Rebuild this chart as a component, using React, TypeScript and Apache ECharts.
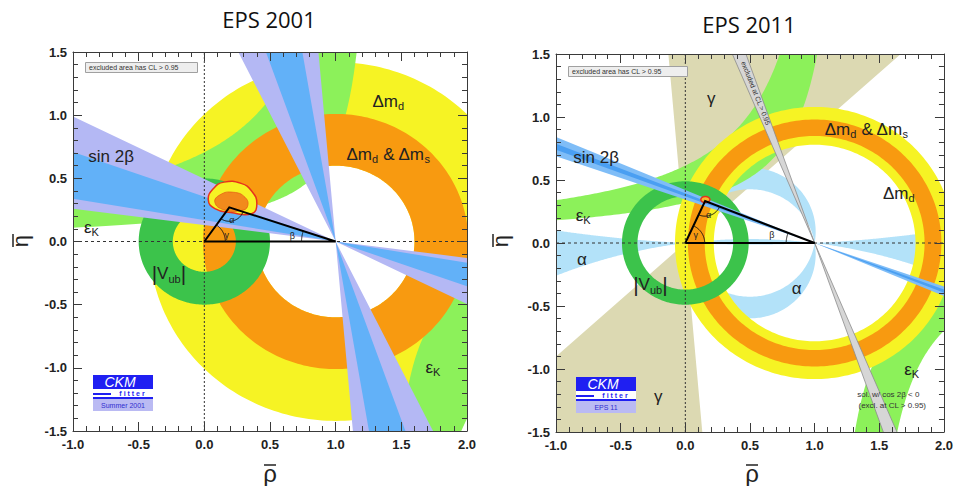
import React, { useEffect, useRef } from "react";
import * as echarts from "echarts";

// ---------------- data ----------------
const xTicks = [-1.0, -0.5, 0.0, 0.5, 1.0, 1.5, 2.0];
const yTicks = [-1.5, -1.0, -0.5, 0.0, 0.5, 1.0, 1.5];
const plotTitles = ["EPS 2001", "EPS 2011"];

// EPS 2001 : annuli [cx, cy, rIn, rOut]
const dmd2001 = [1, 0, 0.6, 1.42];
const dmds2001 = [1, 0, 0.6, 1.01];
const vub2001 = [0, 0, 0.24, 0.5];
// eps_K hyperbola edges [P, c] : eta = c / (P - rho)
const epsKUpper2001 = [[1.33, 0.255], [1.33, 0.94]];
const epsKLower2001 = [[1.33, 0.255], [1.33, 0.94]];
// sin 2beta wedges from (1,0): angle ranges above the -rho direction (deg)
const sin2bOuter2001 = [[7.4, 26.3], [63.7, 85.0]];
const sin2bInner2001 = [[9.6, 19.5], [70.5, 80.4]];
const apex2001 = [0.19, 0.27];
const fitOuter2001 = [[0.03, 0.33], [0.07, 0.42], [0.15, 0.47], [0.28, 0.46], [0.36, 0.4], [0.4, 0.3], [0.36, 0.22], [0.2, 0.23], [0.08, 0.26]];
const fitInner2001 = [[0.08, 0.31], [0.12, 0.37], [0.22, 0.39], [0.31, 0.35], [0.33, 0.28], [0.28, 0.245], [0.15, 0.25]];
const labels2001 = [
  [1.4, 1.11, "{m|Δm}{s|d}"],
  [1.4, 0.69, "{m|Δm}{s|d}{m| & Δm}{s|s}"],
  [-0.71, 0.67, "{m|sin 2β}"],
  [-0.86, 0.11, "{m|ε}{s|K}"],
  [-0.27, -0.25, "{b||}{m|V}{s|ub}{b||}"],
  [1.74, -1.0, "{m|ε}{s|K}"],
];
const angleLabels2001 = [[0.21, 0.17, "α"], [0.17, 0.05, "γ"], [0.67, 0.04, "β"]];

// EPS 2011
const gamma2011 = [42, 95];
const alphaCrescent2011 = [0.09, -0.08];
const alphaOuter2011 = [10.05, -3.98];
const dmd2011 = [1, 0, 0.78, 1.08];
const dmds2011 = [1, 0, 0.85, 0.98];
const vub2011 = [0, 0, 0.37, 0.49];
const epsKUpper2011 = [[1.295, 0.413], [1.237, 0.76]];
const epsKLower2011 = [[1.06, 0.376], [1.325, 0.47]];
const sin2bOuter2011 = [[19.0, 22.8]];
const sin2bInner2011 = [[20.3, 21.5]];
const exclStrip2011 = [109.5, 113.0];
const apex2011 = [0.153, 0.333];
const fit2011 = [0.155, 0.345, 0.035, 0.024];
const labels2011 = [
  [0.2, 1.15, "{m|γ}"],
  [-0.21, -1.22, "{m|γ}"],
  [-0.69, 0.68, "{m|sin 2β}"],
  [-0.79, 0.22, "{m|ε}{s|K}"],
  [1.4, 0.9, "{m|Δm}{s|d}{m| & Δm}{s|s}"],
  [1.65, 0.39, "{m|Δm}{s|d}"],
  [-0.8, -0.13, "{m|α}"],
  [-0.27, -0.33, "{b||}{m|V}{s|ub}{b||}"],
  [0.86, -0.36, "{m|α}"],
  [1.75, -1.0, "{m|ε}{s|K}"],
];
const angleLabels2011 = [[0.18, 0.22, "α"], [0.08, 0.06, "γ"], [0.67, 0.06, "β"]];
const notes2011 = [[1.57, -1.2, "sol. w/ cos 2β < 0"], [1.6, -1.29, "(excl. at CL > 0.95)"]];

// ---------------- style ----------------
const FONT = "'Liberation Sans', Arial, Helvetica, sans-serif";
const COL = {
  yellow: "#f6f324", orange: "#f89a10", lgreen: "#8cf15a", dgreen: "#3cc34b",
  blue: "#62b1f8", lavender: "#b4b8f4", lblue: "#b3e2f9", khaki: "#dcd9b2",
  gray: "#d6d6d6", red: "#e8321c", text: "#222222",
  blue11o: "#7fbdf7", blue11i: "#4a9ff2",
};
const RICH = {
  m: { fontSize: 17, fontFamily: FONT, fill: COL.text, color: COL.text, lineHeight: 20, verticalAlign: "middle" },
  s: { fontSize: 11, fontFamily: FONT, fill: COL.text, color: COL.text, lineHeight: 8, verticalAlign: "bottom" },
  b: { fontSize: 21, fontFamily: FONT, fill: COL.text, color: COL.text, lineHeight: 22, verticalAlign: "middle" },
};

// ---------------- geometry helpers ----------------
const D = Math.PI / 180;
const ETA_LIM = 1.8, RHO_LO = -1.3, RHO_HI = 2.3;

function arcPts(cx: number, cy: number, r: number, t0: number, t1: number, n = 160) {
  const out: number[][] = [];
  for (let i = 0; i <= n; i++) {
    const t = t0 + ((t1 - t0) * i) / n;
    out.push([cx + r * Math.cos(t), cy + r * Math.sin(t)]);
  }
  return out;
}
function annulusPolys(a: number[]) {
  const [cx, cy, ri, ro] = a;
  return [arcPts(cx, cy, ro, 0, 2 * Math.PI, 260), arcPts(cx, cy, ri, 2 * Math.PI, 0, 260)];
}
function conePoly(apex: number[], t1: number, t2: number, R = 8) {
  const p = (t: number) => [apex[0] + R * Math.cos(t * D), apex[1] + R * Math.sin(t * D)];
  return [apex, p(t1), p((t1 + t2) / 2), p(t2)];
}
function doubleCone(apex: number[], t1: number, t2: number) {
  return [conePoly(apex, t1, t2), conePoly(apex, t1 + 180, t2 + 180)];
}
function sin2bWedges(ranges: number[][]) {
  const out: number[][][] = [];
  ranges.forEach(([a1, a2]) => doubleCone([1, 0], 180 - a2, 180 - a1).forEach((p) => out.push(p)));
  return out;
}
function logSpace(a: number, b: number, n: number) {
  const out: number[] = [];
  for (let i = 0; i <= n; i++) out.push(a * Math.pow(b / a, i / n));
  return out;
}
function hyperEdgeUpper(e: number[]) {
  const [P, c] = e;
  return logSpace(P - RHO_LO, c / ETA_LIM, 200).map((u) => [P - u, c / u]);
}
function hyperEdgeLower(e: number[]) {
  const [P, c] = e;
  return logSpace(c / ETA_LIM, RHO_HI - P, 200).map((u) => [P + u, -c / u]);
}
function hyperBandUpper(edges: number[][]) {
  return [hyperEdgeUpper(edges[0]).concat(hyperEdgeUpper(edges[1]).reverse())];
}
function hyperBandLower(edges: number[][]) {
  return [hyperEdgeLower(edges[0]).concat(hyperEdgeLower(edges[1]).reverse())];
}
function alphaOuterBand(k: number[]) {
  const [K1, K2] = k;
  const r1 = Math.sqrt(0.25 + K1 * K1), r2 = Math.sqrt(0.25 + K2 * K2);
  const top: number[][] = [], bot: number[][] = [];
  const N = 400;
  for (let i = 0; i <= N; i++) {
    const x = RHO_LO + ((RHO_HI - RHO_LO) * i) / N;
    top.push([x, K1 - Math.sqrt(r1 * r1 - (x - 0.5) ** 2)]);
    bot.push([x, K2 + Math.sqrt(r2 * r2 - (x - 0.5) ** 2)]);
  }
  return [top.concat(bot.reverse())];
}
function upperArc(k: number) {
  const r = Math.sqrt(0.25 + k * k);
  const ts = Math.atan2(-k, 0.5);
  return arcPts(0.5, k, r, ts, Math.PI - ts, 140);
}
function alphaCrescents(k: number[]) {
  const up = upperArc(k[0]).concat(upperArc(k[1]).reverse());
  const down = up.map(([x, y]) => [x, -y]);
  return [up, down];
}
function ellipsePts(e: number[]) {
  const [cx, cy, rx, ry] = e;
  const out: number[][] = [];
  for (let i = 0; i < 60; i++) {
    const t = (2 * Math.PI * i) / 60;
    out.push([cx + rx * Math.cos(t), cy + ry * Math.sin(t)]);
  }
  return out;
}
function angleArcs(apex: number[], rG: number, rB: number, rA: number) {
  const g = arcPts(0, 0, rG, 0, Math.atan2(apex[1], apex[0]), 40);
  const b = arcPts(1, 0, rB, Math.atan2(apex[1], apex[0] - 1), Math.PI, 40);
  const a = arcPts(apex[0], apex[1], rA, Math.atan2(-apex[1], -apex[0]), Math.atan2(-apex[1], 1 - apex[0]), 40);
  return [g, b, a];
}

// ---------------- shape lists ----------------
function poly(polys: number[][][], fill: string, stroke?: string, lw?: number) {
  return { kind: "poly", polys, fill, stroke, lw };
}
function line(pts: number[][], stroke: string, lw: number, dash?: number[]) {
  return { kind: "line", pts, stroke, lw, dash };
}
function label(l: any[], size = 17, rot = 0, fill = COL.text) {
  return { kind: "text", at: [l[0], l[1]], text: l[2], size, rot, fill };
}

function commonTail(apex: number[], arcR: number[]) {
  const arcs = angleArcs(apex, arcR[0], arcR[1], arcR[2]);
  return [
    line([[-1, 0], [2, 0]], "#333", 1, [3, 3]),
    line([[0, -1.5], [0, 1.5]], "#333", 1, [2, 2]),
    line([[0, 0], [1, 0], apex, [0, 0]], "#000", 2),
    ...arcs.map((a) => line(a, "#111", 1)),
  ];
}

const shapes2001: any[] = [
  poly(annulusPolys(dmd2001), COL.yellow),
  poly([...hyperBandUpper(epsKUpper2001), ...hyperBandLower(epsKLower2001)], COL.lgreen),
  poly(annulusPolys(dmds2001), COL.orange),
  poly(annulusPolys(vub2001), COL.dgreen),
  poly(sin2bWedges(sin2bOuter2001), COL.lavender),
  poly(sin2bWedges(sin2bInner2001), COL.blue),
  { kind: "spoly", pts: fitOuter2001, fill: COL.yellow, stroke: COL.red, lw: 1.5 },
  { kind: "spoly", pts: fitInner2001, fill: "#f28a1c", stroke: "#e04a14", lw: 0.6 },
  ...commonTail(apex2001, [0.16, 0.26, 0.11]),
  ...labels2001.map((l) => label(l)),
  ...angleLabels2001.map((l) => label(l, 9)),
];

const shapes2011: any[] = [
  poly(doubleCone([0, 0], gamma2011[0], gamma2011[1]), COL.khaki),
  poly([...alphaOuterBand(alphaOuter2011), ...alphaCrescents(alphaCrescent2011)], COL.lblue),
  poly([...hyperBandUpper(epsKUpper2011), ...hyperBandLower(epsKLower2011)], COL.lgreen),
  poly(annulusPolys(dmd2011), COL.yellow),
  poly(annulusPolys(dmds2011), COL.orange),
  poly(annulusPolys(vub2011), COL.dgreen),
  poly(sin2bWedges(sin2bOuter2011), COL.blue11o),
  poly(sin2bWedges(sin2bInner2011), COL.blue11i),
  poly(doubleCone([1, 0], exclStrip2011[0], exclStrip2011[1]), COL.gray, "#8c8c8c", 0.8),
  { kind: "spoly", pts: ellipsePts(fit2011), fill: "#f7b830", stroke: COL.red, lw: 1.5 },
  ...commonTail(apex2011, [0.15, 0.22, 0.12]),
  ...labels2011.map((l) => label(l)),
  ...angleLabels2011.map((l) => label(l, 9)),
  ...notes2011.map((l) => label(l, 8, 0, "#333")),
  label([0.545, 1.19, "excluded at CL > 0.95"], 7, -68.3 * D, "#333"),
];

// ---------------- render ----------------
function makeRender(shapes: any[]) {
  return (params: any, api: any) => {
    const s = shapes[params.dataIndex];
    const c = (p: number[]) => api.coord(p);
    if (s.kind === "poly") {
      let d = "";
      for (const pl of s.polys) {
        pl.forEach((p: number[], i: number) => {
          const q = c(p);
          d += (i ? "L" : "M") + q[0].toFixed(2) + " " + q[1].toFixed(2);
        });
        d += "Z";
      }
      return {
        type: "path", silent: true, shape: { pathData: d },
        style: { fill: s.fill, stroke: s.stroke || "none", lineWidth: s.lw || 0 },
      };
    }
    if (s.kind === "spoly") {
      return {
        type: "polygon", silent: true,
        shape: { points: s.pts.map(c), smooth: 0.5 },
        style: { fill: s.fill, stroke: s.stroke, lineWidth: s.lw },
      };
    }
    if (s.kind === "line") {
      return {
        type: "polyline", silent: true,
        shape: { points: s.pts.map(c) },
        style: { fill: "none", stroke: s.stroke, lineWidth: s.lw, lineDash: s.dash || null },
      };
    }
    const q = c(s.at);
    const isRich = s.text.indexOf("{") === 0;
    return {
      type: "text", silent: true, x: q[0], y: q[1], rotation: s.rot || 0,
      style: {
        text: s.text, rich: isRich ? RICH : undefined,
        fill: s.fill, fontSize: s.size, fontFamily: FONT,
        align: "center", verticalAlign: "middle", textAlign: "center", textVerticalAlign: "middle",
      },
    };
  };
}

function axesFor(gi: number, dim: "x" | "y") {
  const ticks = dim === "x" ? xTicks : yTicks;
  const base: any = {
    gridIndex: gi, type: "value", min: ticks[0], max: ticks[ticks.length - 1],
    interval: ticks[1] - ticks[0], z: 10,
    splitLine: { show: false },
    axisLine: { show: true, onZero: false, lineStyle: { color: "#3a3a3a", width: 1 } },
    axisTick: { show: true, inside: true, length: 9, lineStyle: { color: "#3a3a3a", width: 1 } },
    minorTick: { show: true, splitNumber: 5, length: 5, lineStyle: { color: "#3a3a3a", width: 1 } },
  };
  return [
    {
      ...base, position: dim === "x" ? "bottom" : "left",
      axisLabel: {
        show: true, formatter: (v: number) => v.toFixed(1), fontFamily: FONT,
        fontWeight: "bold", fontSize: 13, color: "#222", margin: dim === "x" ? 7 : 6,
      },
    },
    { ...base, position: dim === "x" ? "top" : "right", axisLabel: { show: false } },
  ];
}

function txt(x: number, y: number, text: string, font: string, fill: string, align = "center") {
  return {
    type: "text", x, y, z: 100,
    style: { text, font, fill, align, verticalAlign: "middle", textAlign: align, textVerticalAlign: "middle" },
  };
}
function rect(x: number, y: number, w: number, h: number, fill: string, stroke?: string) {
  return { type: "rect", z: 100, shape: { x, y, width: w, height: h }, style: { fill, stroke: stroke || "none", lineWidth: 1 } };
}
function logo(x0: number, y0: number, sub: string) {
  const blue = "#1f1ff2";
  return [
    rect(x0, y0, 60, 14, blue),
    txt(x0 + 27, y0 + 7.2, "CKM", `italic 14px ${FONT}`, "#ffffff"),
    rect(x0, y0 + 14, 60, 10, "#ffffff"),
    rect(x0, y0 + 18, 18, 2, blue),
    rect(x0, y0 + 22, 60, 2, blue),
    txt(x0 + 39, y0 + 18.6, "f i t t e r", `bold 7px ${FONT}`, blue),
    rect(x0, y0 + 24, 60, 12, "#babaf3"),
    txt(x0 + 30, y0 + 30.5, sub, `7px ${FONT}`, "#2f2fd0"),
  ];
}
function axisNames(cx: number, etaX: number) {
  return [
    { type: "text", x: etaX + 7, y: 241, z: 100, rotation: Math.PI / 2,
      style: { text: "η", font: `22px ${FONT}`, fill: "#222", align: "center", verticalAlign: "middle", textAlign: "center", textVerticalAlign: "middle" } },
    { type: "line", z: 100, shape: { x1: etaX, y1: 234, x2: etaX, y2: 247 }, style: { stroke: "#222", lineWidth: 1.5 } },
    txt(cx, 473, "ρ", `24px ${FONT}`, "#222"),
    { type: "line", z: 100, shape: { x1: cx - 6, y1: 465, x2: cx + 6, y2: 465 }, style: { stroke: "#222", lineWidth: 1.5 } },
  ];
}

function buildOption() {
  const graphics: any[] = [
    txt(269, 19, plotTitles[0], `22px 'Open Sans', sans-serif`, "#111"),
    txt(749, 24, plotTitles[1], `22px 'Open Sans', sans-serif`, "#111"),
    ...axisNames(270, 13),
    ...axisNames(752, 493),
    rect(85.5, 62.5, 112, 10, "#eeeeee", "#a0a0a0"),
    txt(89, 67.5, "excluded area has CL > 0.95", `7px ${FONT}`, "#333", "left"),
    rect(568.5, 66.5, 119, 10, "#eeeeee", "#a0a0a0"),
    txt(572, 71.5, "excluded area has CL > 0.95", `7px ${FONT}`, "#333", "left"),
    ...logo(93, 375, "Summer 2001"),
    ...logo(576, 377, "EPS 11"),
  ];
  const xa = [...axesFor(0, "x"), ...axesFor(1, "x")];
  const ya = [...axesFor(0, "y"), ...axesFor(1, "y")];
  return {
    animation: false,
    backgroundColor: "#ffffff",
    grid: [
      { left: 73, top: 52, width: 394, height: 379 },
      { left: 556, top: 54, width: 392, height: 378 },
    ],
    xAxis: xa,
    yAxis: ya,
    series: [
      { type: "custom", xAxisIndex: 0, yAxisIndex: 0, clip: true, z: 2, renderItem: makeRender(shapes2001), data: shapes2001.map(() => [0, 0]) },
      { type: "custom", xAxisIndex: 2, yAxisIndex: 2, clip: true, z: 2, renderItem: makeRender(shapes2011), data: shapes2011.map(() => [0, 0]) },
    ],
    graphic: { elements: graphics },
  };
}

export default function App() {
  const ref = useRef<HTMLDivElement>(null);
  useEffect(() => {
    const chart = echarts.init(ref.current as HTMLDivElement, null, { renderer: "svg" });
    chart.setOption(buildOption() as any);
    return () => chart.dispose();
  }, []);
  return (
    <div
      ref={ref}
      style={{ position: "fixed", left: 0, top: 0, width: 956, height: 486, background: "#fff" }}
    />
  );
}
